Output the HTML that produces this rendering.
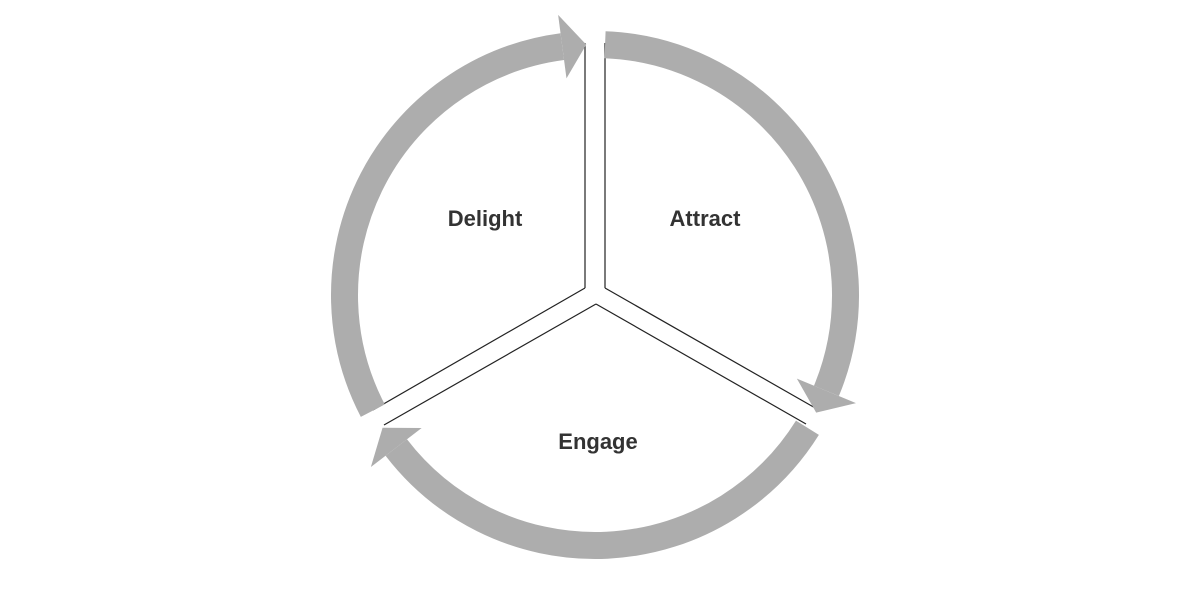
<!DOCTYPE html>
<html><head><meta charset="utf-8"><style>
html,body{margin:0;padding:0;background:#fff;width:1191px;height:596px;overflow:hidden}
svg{display:block}
text{font-family:"Liberation Sans",sans-serif;font-weight:bold;font-size:22px;fill:#333}
</style></head><body>
<svg id="s" width="1191" height="596" viewBox="0 0 1191 596">
<g stroke="#222" stroke-width="1.2" fill="none">
<line x1="585" y1="43" x2="585" y2="288"/>
<line x1="605" y1="43" x2="605" y2="288"/>
<line x1="605" y1="288" x2="817" y2="409"/>
<line x1="585" y1="288" x2="373" y2="410"/>
<line x1="596" y1="304" x2="806" y2="424"/>
<line x1="596" y1="304" x2="384" y2="425"/>
</g>
<g id="arcs"></g>
<text x="485" y="226" text-anchor="middle">Delight</text>
<text x="705" y="226" text-anchor="middle">Attract</text>
<text x="598" y="449" text-anchor="middle">Engage</text>
</svg>
<script>
var cx=595,cy=295,r=250.5,w=27,hw=32;
function P(a,rr){var t=a*Math.PI/180;return [cx+rr*Math.cos(t),cy+rr*Math.sin(t)];}
var segs=[[-87.7,22.5,28],[32,142.5,148],[152.5,262.5,268]];
var g=document.getElementById('arcs'),h='';
segs.forEach(function(s){
 var a=P(s[0],r),b=P(s[1],r);
 var large=(s[1]-s[0])>180?1:0;
 h+='<path d="M'+a[0]+' '+a[1]+' A'+r+' '+r+' 0 '+large+' 1 '+b[0]+' '+b[1]+'" stroke="#adadad" stroke-width="'+w+'" fill="none"/>';
 var o=P(s[1],r+hw),i=P(s[1],r-hw),t=P(s[2],r);
 h+='<polygon points="'+o.join(',')+' '+t.join(',')+' '+i.join(',')+'" fill="#adadad"/>';
});
g.innerHTML=h;
</script>
</body></html>
